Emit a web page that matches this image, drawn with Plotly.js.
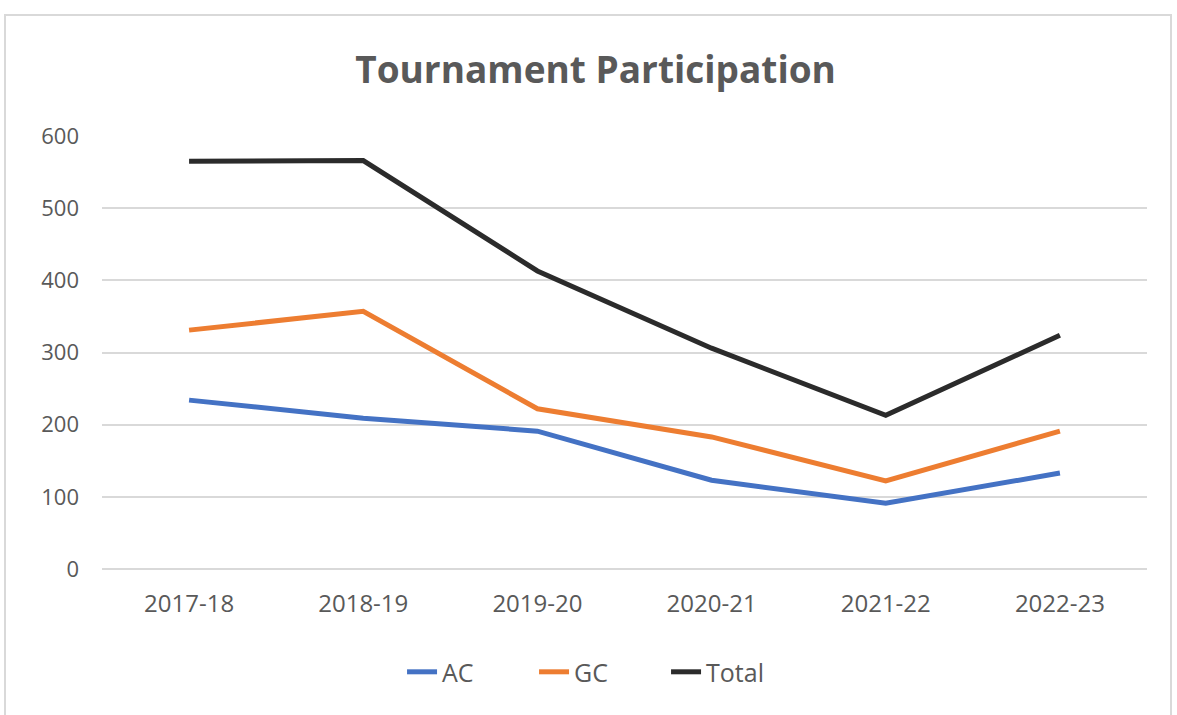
<!DOCTYPE html>
<html>
<head>
<meta charset="utf-8">
<script src="https://cdn.plot.ly/plotly-3.0.1.min.js"></script>
<style>
  html, body { margin: 0; padding: 0; background: #fff; }
  #frame { position: absolute; left: 4px; top: 14px; width: 1168px; height: 705px; border: 2px solid #d9d9d9; box-sizing: border-box; }
  #chart { position: absolute; left: 0; top: 0; width: 1177px; height: 715px; }
</style>
</head>
<body>
<div id="frame"></div>
<div id="chart"></div>
<script>
const seasons = ["2017-18", "2018-19", "2019-20", "2020-21", "2021-22", "2022-23"];
const acValues = [234, 209, 191, 123, 91, 133];
const gcValues = [331, 357, 222, 183, 122, 191];
const totalValues = [565, 566, 413, 306, 213, 324];
const yTicks = [0, 100, 200, 300, 400, 500, 600];

const lineStyle = (color) => ({ color: color, width: 5, shape: 'linear' });

const traces = [
  { x: seasons, y: acValues, name: 'AC', type: 'scatter', mode: 'lines', line: lineStyle('#4472C4') },
  { x: seasons, y: gcValues, name: 'GC', type: 'scatter', mode: 'lines', line: lineStyle('#ED7D31') },
  { x: seasons, y: totalValues, name: 'Total', type: 'scatter', mode: 'lines', line: lineStyle('#2b2b2b') }
];

const layout = {
  width: 1177, height: 715,
  paper_bgcolor: 'rgba(0,0,0,0)', plot_bgcolor: 'rgba(0,0,0,0)',
  margin: { l: 102, r: 30, t: 136, b: 146 },
  font: { family: '"Open Sans", sans-serif', color: '#595959', size: 22 },
  title: {
    text: '<b>Tournament Participation</b>',
    font: { family: '"Open Sans", sans-serif', size: 37, color: '#595959' },
    xref: 'container', yref: 'container',
    x: 0.506, xanchor: 'center', y: 0.902, yanchor: 'middle'
  },
  xaxis: {
    type: 'category', range: [-0.5, 5.5],
    showgrid: false, showline: false, zeroline: false,
    ticks: '', ticklabelstandoff: 18,
    tickfont: { size: 24, color: '#595959' }
  },
  yaxis: {
    range: [0, 600], tickvals: yTicks, ticktext: yTicks.map(String),
    showgrid: true, gridcolor: '#d9d9d9', gridwidth: 2,
    zeroline: true, zerolinecolor: '#d9d9d9', zerolinewidth: 2,
    showline: false, ticks: '', ticklabelstandoff: 22,
    tickfont: { size: 22, color: '#595959' }
  },
  showlegend: true,
  legend: {
    orientation: 'h', x: 0.4766, xanchor: 'center', y: -0.238, yanchor: 'middle',
    font: { size: 25, color: '#595959' }, tracegroupgap: 0,
    entrywidth: 87, entrywidthmode: 'pixels'
  },
  hovermode: false
};

Plotly.newPlot('chart', traces, layout, { displayModeBar: false, staticPlot: true });
</script>
</body>
</html>
